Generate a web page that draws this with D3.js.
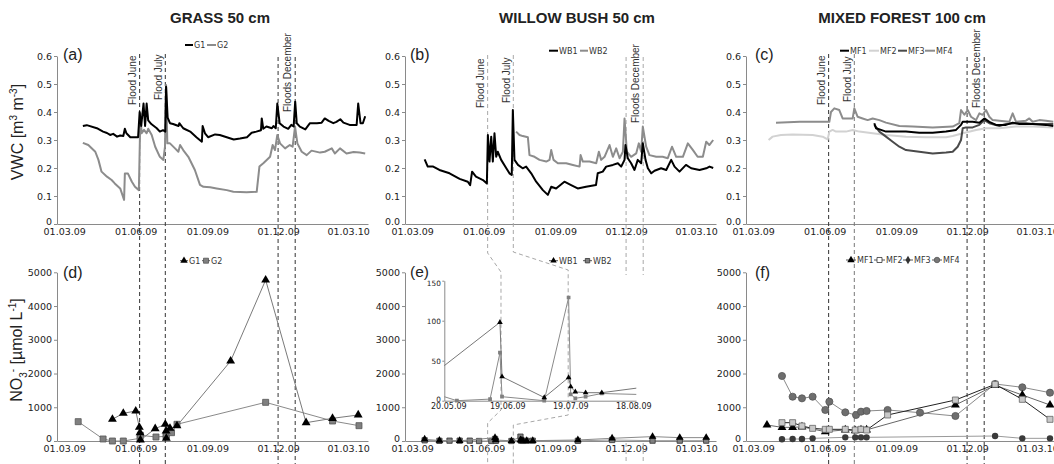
<!DOCTYPE html>
<html><head><meta charset="utf-8">
<script src="https://cdn.jsdelivr.net/npm/d3@7"></script>
<style>body{margin:0;background:#fff}svg{display:block}</style>
</head><body>
<svg id="c" width="1054" height="464"></svg>
<script>
// ---------- DATA (day offset since 01.03.09, value) ----------
const PANEL_TITLES = ["GRASS 50 cm", "WILLOW BUSH 50 cm", "MIXED FOREST 100 cm"];
const X_TICKS = ["2009-03-01", "2009-06-01", "2009-09-01", "2009-12-01", "2010-03-01"];
const VWC_TICKS = [0, 0.1, 0.2, 0.3, 0.4, 0.5, 0.6];
const NO3_TICKS = [0, 1000, 2000, 3000, 4000, 5000];
const INSET_X_TICKS = ["2009-05-20", "2009-06-19", "2009-07-19", "2009-08-18"];
const INSET_Y_TICKS = [0, 50, 100, 150];
const FLOOD_DAYS = [97, 130, 275, 297];     // Flood June, Flood July, Floods December (2 lines)
const INSET_FLOOD_DAYS = [107, 139];

const G1_VWC = [[24,0.35],[29,0.353],[42,0.342],[50,0.33],[55,0.325],[59,0.318],[63,0.322],[68,0.312],[72,0.316],[76,0.314],[78,0.34],[80,0.324],[85,0.31],[95,0.31],[97,0.40],[99,0.35],[102,0.43],[104,0.35],[106,0.43],[108,0.37],[112,0.357],[119,0.342],[123,0.33],[127,0.335],[130,0.33],[131,0.49],[133,0.38],[136,0.36],[140,0.357],[147,0.35],[148,0.36],[153,0.342],[162,0.33],[170,0.31],[177,0.294],[178,0.35],[181,0.324],[185,0.31],[194,0.32],[200,0.318],[209,0.31],[218,0.302],[226,0.305],[235,0.31],[241,0.326],[247,0.33],[253,0.335],[254,0.377],[256,0.34],[260,0.348],[267,0.342],[269,0.35],[272,0.342],[274,0.43],[277,0.36],[282,0.348],[288,0.34],[292,0.354],[295,0.348],[297,0.437],[299,0.36],[303,0.348],[310,0.338],[316,0.36],[325,0.36],[331,0.362],[335,0.377],[340,0.368],[346,0.36],[350,0.365],[355,0.374],[359,0.362],[367,0.354],[376,0.354],[378,0.43],[381,0.36],[384,0.36],[387,0.385]];
const G2_VWC = [[24,0.29],[31,0.282],[40,0.258],[44,0.229],[48,0.187],[55,0.169],[61,0.157],[65,0.145],[72,0.127],[77,0.086],[78,0.18],[82,0.18],[87,0.151],[91,0.133],[96,0.121],[98,0.395],[99.6,0.324],[102.6,0.336],[106,0.324],[108,0.34],[112.5,0.318],[117,0.276],[123,0.24],[127.5,0.229],[129.6,0.276],[131,0.496],[132.6,0.288],[136,0.288],[142.5,0.27],[146.8,0.258],[149,0.282],[153,0.264],[159.6,0.24],[168,0.193],[174.6,0.14],[179,0.133],[187.7,0.131],[196,0.127],[209,0.121],[217.5,0.115],[234.6,0.113],[247.5,0.115],[251,0.205],[256,0.217],[264.7,0.24],[268,0.282],[271,0.264],[274,0.318],[277.5,0.288],[284,0.27],[290,0.282],[293.7,0.276],[296.8,0.348],[299.8,0.288],[305.4,0.258],[311.8,0.246],[318,0.262],[329,0.255],[335,0.258],[344,0.27],[348,0.252],[354.6,0.27],[363,0.252],[372,0.257],[380,0.255],[387,0.252]];
const WB1_VWC = [[16,0.231],[20,0.205],[27,0.205],[35,0.193],[48,0.181],[61,0.161],[71.5,0.151],[74.5,0.139],[77,0.187],[82,0.169],[91,0.157],[96,0.145],[97.3,0.318],[99.4,0.223],[101.6,0.312],[103.7,0.223],[105.8,0.324],[108,0.24],[110,0.258],[114.4,0.229],[121,0.199],[125,0.181],[128,0.175],[129.4,0.407],[131.5,0.229],[136,0.211],[142,0.199],[146.5,0.205],[153,0.181],[159.4,0.151],[168,0.121],[174.4,0.104],[178.7,0.133],[185,0.127],[195.7,0.151],[204.3,0.139],[212.8,0.127],[223.5,0.133],[236.3,0.139],[238.5,0.181],[245,0.187],[249.4,0.205],[258,0.211],[264.4,0.217],[268.7,0.205],[273,0.229],[274.2,0.282],[277.2,0.235],[281.5,0.217],[285.8,0.193],[290,0.229],[294.4,0.217],[296.5,0.288],[300,0.229],[303,0.199],[307.4,0.181],[311.6,0.19],[320,0.199],[326.6,0.193],[333,0.229],[337.3,0.205],[343.7,0.187],[352,0.211],[358.7,0.199],[369.4,0.193],[378,0.199],[382.3,0.205],[387,0.2]];
const WB2_VWC = [[133.6,0.33],[138,0.318],[142.2,0.314],[148.7,0.31],[150.8,0.246],[157.3,0.24],[163.7,0.229],[172.3,0.223],[176.6,0.229],[178.7,0.264],[181.7,0.229],[187.3,0.217],[198,0.217],[206.6,0.211],[215.2,0.205],[216.5,0.246],[219.4,0.223],[228,0.223],[236.6,0.217],[240,0.258],[243,0.229],[247.3,0.24],[253.7,0.282],[258,0.24],[262.3,0.27],[266.6,0.235],[270.9,0.258],[273,0.377],[276,0.258],[281.5,0.24],[288,0.252],[291.4,0.288],[294.4,0.258],[296.5,0.348],[300.8,0.276],[305,0.246],[313.7,0.24],[322,0.24],[328.6,0.235],[334,0.276],[339.4,0.24],[348,0.24],[354.4,0.288],[361,0.264],[367,0.24],[373.7,0.24],[378,0.294],[382,0.282],[387,0.3]];
const MF1_VWC = [[155.7,0.36],[157.9,0.342],[164.3,0.336],[170.7,0.33],[179.3,0.33],[196.4,0.33],[213.5,0.326],[230.8,0.326],[247.9,0.33],[260.8,0.336],[267.2,0.354],[269.4,0.365],[282.2,0.365],[290.8,0.362],[297.2,0.377],[303.6,0.365],[312.2,0.354],[325,0.354],[333.6,0.362],[342.2,0.357],[359.3,0.357],[376.4,0.354],[385.8,0.35]];
const MF2_VWC = [[19.8,0.30],[25,0.312],[35.7,0.318],[50.7,0.32],[76.4,0.318],[89.3,0.312],[95.7,0.302],[97.9,0.33],[102.1,0.336],[106.4,0.33],[119.3,0.33],[127.9,0.336],[136.4,0.33],[153.6,0.324],[170.7,0.318],[196.4,0.312],[222.2,0.31],[247.9,0.31],[256.5,0.314],[269.4,0.324],[286.5,0.336],[299.3,0.342],[316.5,0.342],[337.9,0.348],[359.3,0.348],[385.8,0.345]];
const MF3_VWC = [[155.7,0.354],[162.2,0.33],[170.7,0.312],[179.3,0.294],[187.9,0.276],[196.4,0.264],[213.5,0.258],[230.8,0.252],[247.9,0.255],[256.5,0.258],[262.9,0.276],[267.2,0.30],[269.4,0.342],[273.7,0.345],[282.2,0.345],[290.8,0.354],[297.2,0.371],[303.6,0.36],[316.5,0.35],[325,0.357],[337.9,0.36],[350.7,0.36],[359.3,0.357],[385.8,0.357]];
const MF4_VWC = [[29.3,0.362],[60,0.365],[97.9,0.365],[100,0.40],[104.3,0.413],[110.7,0.407],[115,0.377],[123.6,0.377],[127.9,0.377],[130,0.413],[134.3,0.383],[140.7,0.377],[147.2,0.371],[153.6,0.377],[162.2,0.371],[170.7,0.362],[187.9,0.35],[205,0.348],[230.8,0.345],[256.5,0.348],[265,0.36],[267.2,0.407],[271.5,0.39],[275.8,0.407],[280,0.383],[286.5,0.371],[290.8,0.395],[295,0.39],[299.3,0.407],[303.6,0.383],[307.9,0.371],[316.5,0.369],[329.3,0.365],[333.6,0.395],[337.9,0.365],[350.7,0.369],[355,0.377],[359.3,0.365],[367.9,0.371],[376.4,0.369],[385.8,0.365]];

const G1_NO3 = [[62,643],[76,821],[92,889],[96.6,406],[97.5,246],[98,30],[117,365],[130,495],[131,296],[131.3,80],[136,376],[145,450],[214,2371],[259,4772],[311,543],[345,672],[378,771]];
const G2_NO3 = [[18,573],[50,60],[62,0],[76,0],[97.5,80],[98,169],[118,119],[131,140],[131.3,169],[138,247],[145,495],[259,1146],[345,593],[379,454]];
const WB1_NO3 = [[16,50],[35,15],[61,5],[106.5,98],[107.5,30],[127.6,4],[139.2,29],[140.2,17.5],[142.4,11],[147.3,10],[155,10],[213,30],[257,80],[309,130],[344,100],[378,100]];
const WB2_NO3 = [[16,20],[35,5],[48,10],[61,10],[74,10],[86,0],[101.8,2],[106.5,60],[107.5,5],[127.6,0],[139.2,129],[140.2,8],[142.4,3],[147.3,5],[155,9],[213,5],[257,30],[309,10],[344,10],[378,10]];
const MF1_NO3 = [[17.7,474],[37,405],[50.7,405],[62.7,420],[92.7,277],[118.4,330],[131.2,306],[138.6,330],[145.8,330],[260,1067],[311,1650],[346,1363],[381.6,1067]];
const MF2_NO3 = [[37,543],[50.7,543],[62.7,445],[76.4,375],[92.7,346],[97.9,346],[118.4,346],[131.2,326],[138.6,346],[145.8,326],[172.8,771],[260,1215],[311,1680],[346,1235],[381.6,642]];
const MF3_NO3 = [[37,50],[50.7,59],[62.7,59],[76.4,79],[118.4,109],[131.2,109],[138.6,109],[145.8,109],[311,148],[346,79],[381.6,79]];
const MF4_NO3 = [[37,1927],[50.7,1313],[62.7,1264],[76.4,1313],[92.7,919],[97.9,1166],[118.4,850],[132.2,771],[138.6,869],[145.8,889],[172.8,919],[214.5,840],[260,741],[311,1690],[346,1591],[381.6,1432]];

// ---------- LAYOUT ----------
const svg = d3.select("#c");
const FT = "'Liberation Sans', Arial, sans-serif";
const FV = "'DejaVu Sans', Verdana, sans-serif";
const parse = d3.timeParse("%Y-%m-%d");
const T0 = parse("2009-03-01");
const D = n => new Date(T0.getTime() + n * 864e5);
const fmtD = d3.timeFormat("%d.%m.%y");
const AX = [57, 405, 746], PW = 311;
const UP = [224, 56], LO = [441, 272.3];
const xs = AX.map(a => d3.scaleTime().domain([D(-9.25), D(390.6)]).range([a, a + PW]));
const yUp = d3.scaleLinear().domain([0, 0.6]).range(UP);
const yLo = d3.scaleLinear().domain([0, 5000]).range(LO);

function styleAxis(g, fs) {
  g.select(".domain").attr("stroke", "#8a8a8a");
  g.selectAll(".tick line").attr("stroke", "#8a8a8a");
  g.selectAll("text").attr("fill", "#222").style("font-family", FV).style("font-size", fs + "px");
}
function axes(i, y, ticks, fmt, yBase) {
  const gx = svg.append("g").attr("transform", `translate(0,${yBase})`)
    .call(d3.axisBottom(xs[i]).tickValues(X_TICKS.map(parse)).tickFormat(fmtD).tickSize(0).tickSizeOuter(0).tickPadding(4.5));
  styleAxis(gx, 9.5);
  const gy = svg.append("g").attr("transform", `translate(${AX[i]},0)`)
    .call(d3.axisLeft(y).tickValues(ticks).tickFormat(fmt).tickSize(3).tickSizeOuter(0).tickPadding(2));
  styleAxis(gy, 9.5);
  gy.selectAll(".tick text").filter(d => d === 0).attr("dy", "0.1em");
}

// titles
const TITLE_X = [220, 577, 902];
PANEL_TITLES.forEach((t, i) => svg.append("text").attr("x", TITLE_X[i]).attr("y", 23).attr("text-anchor", "middle")
  .style("font-family", FT).style("font-weight", "bold").style("font-size", "15px").attr("fill", "#222").text(t));

// y axis titles
const yt1 = svg.append("text").attr("transform", "translate(23,132) rotate(-90)").attr("text-anchor", "middle")
  .style("font-family", FT).style("font-size", "16px").attr("fill", "#222");
yt1.append("tspan").text("VWC [m");
yt1.append("tspan").attr("dy", -6).style("font-size", "10px").text("3");
yt1.append("tspan").attr("dy", 6).text(" m");
yt1.append("tspan").attr("dy", -6).style("font-size", "10px").text("-3");
yt1.append("tspan").attr("dy", 6).text("]");
const yt2 = svg.append("text").attr("transform", "translate(22,350) rotate(-90)").attr("text-anchor", "middle")
  .style("font-family", FT).style("font-size", "16px").attr("fill", "#222");
yt2.append("tspan").text("NO");
yt2.append("tspan").attr("dy", 5).style("font-size", "10px").text("3");
yt2.append("tspan").attr("dy", -11).style("font-size", "10px").text("-");
yt2.append("tspan").attr("dy", 6).text(" [\u00b5mol L");
yt2.append("tspan").attr("dy", -6).style("font-size", "10px").text("-1");
yt2.append("tspan").attr("dy", 6).text("]");

// axes
const f1 = d3.format(".1f");
axes(0, yUp, VWC_TICKS, d => d === 0 ? "0" : f1(d), UP[0]);
axes(1, yUp, VWC_TICKS, f1, UP[0]);
axes(2, yUp, VWC_TICKS, f1, UP[0]);
for (let i = 0; i < 3; i++) axes(i, yLo, NO3_TICKS, d3.format("d"), LO[0]);

// panel letters
const LET = ["(a)", "(b)", "(c)", "(d)", "(e)", "(f)"];
LET.forEach((l, k) => {
  const i = k % 3, yb = k < 3 ? 60 : 278;
  svg.append("text").attr("x", [63, 410, 755][i]).attr("y", k === 4 ? 277 : yb).style("font-family", FT)
    .style("font-size", k === 4 ? "15.5px" : "16px").attr("fill", "#222").text(l);
});

// flood lines
const dash = "4,3";
function vline(x, y1, y2, col) {
  svg.append("line").attr("x1", x).attr("x2", x).attr("y1", y1).attr("y2", y2)
    .attr("stroke", col).attr("stroke-width", 1).attr("stroke-dasharray", dash);
}
const DARK = "#333", LIGHT = "#a8a8a8";
[0, 2].forEach(i => {
  const x = xs[i];
  vline(x(D(FLOOD_DAYS[0])), 54, 464, DARK);
  vline(x(D(FLOOD_DAYS[1])), 54, 464, i === 2 ? "#777" : DARK);
  vline(x(D(FLOOD_DAYS[2])), 57, 464, DARK);
  vline(x(D(FLOOD_DAYS[3])), 57, 464, DARK);
});
// column b/e
const xb = xs[1];
vline(xb(D(FLOOD_DAYS[2])), 57, 275, LIGHT); vline(xb(D(FLOOD_DAYS[2])), 443, 464, LIGHT);
vline(xb(D(FLOOD_DAYS[3])), 57, 275, LIGHT); vline(xb(D(FLOOD_DAYS[3])), 443, 464, LIGHT);

// inset scales
const xin = d3.scaleTime().domain([D(80), D(171.3)]).range([444.3, 636]);
const yin = d3.scaleLinear().domain([0, 150]).range([400.7, 280.7]);
const conn = [[253, 272, 410, 423], [252, 270, 415, 425]];
[0, 1].forEach(k => {
  const xm = xb(D(FLOOD_DAYS[k])), xi = xin(D(INSET_FLOOD_DAYS[k])), c = conn[k];
  svg.append("path").attr("d", `M${xm},55V${c[0]}L${xi},${c[1]}V${c[2]}L${xm},${c[3]}V464`)
    .attr("fill", "none").attr("stroke", LIGHT).attr("stroke-dasharray", dash);
});

// flood labels
function flabel(x, y, t) {
  svg.append("text").attr("transform", `translate(${x},${y}) rotate(-90)`).style("font-family", FT)
    .style("font-size", "10px").attr("fill", "#333").text(t);
}
const FLB = [[105, 100, 112], [108, 103, 123], [105, 102, 108]];
for (let i = 0; i < 3; i++) {
  const x = xs[i];
  flabel(x(D(FLOOD_DAYS[0])) - 3.5, FLB[i][0], "Flood June");
  flabel(x(D(FLOOD_DAYS[1])) - 3.5, FLB[i][1], "Flood July");
  flabel(x(D(FLOOD_DAYS[3])) - 4.5, FLB[i][2], "Floods December");
}

// ---------- VWC lines ----------
function vwcLine(i, data, col) {
  const line = d3.line().x(d => xs[i](D(d[0]))).y(d => yUp(d[1]));
  svg.append("path").datum(data).attr("d", line).attr("fill", "none").attr("stroke", col)
    .attr("stroke-width", 2).attr("stroke-linejoin", "round");
}
const GRAY = "#8c8c8c";
vwcLine(0, G2_VWC, GRAY); vwcLine(0, G1_VWC, "#000");
vwcLine(1, WB2_VWC, GRAY); vwcLine(1, WB1_VWC, "#000");
vwcLine(2, MF2_VWC, "#d2d2d2"); vwcLine(2, MF4_VWC, GRAY); vwcLine(2, MF3_VWC, "#4a4a4a"); vwcLine(2, MF1_VWC, "#000");

// upper legends
function legLine(x1, x2, y, col, label, fs) {
  svg.append("line").attr("x1", x1).attr("x2", x2).attr("y1", y).attr("y2", y).attr("stroke", col).attr("stroke-width", 2);
  svg.append("text").attr("x", x2 + 1).attr("y", y + 3).style("font-family", FV).style("font-size", (fs || 8) + "px").attr("fill", "#333").text(label);
}
legLine(185, 193, 45, "#000", "G1"); legLine(207, 216, 45, GRAY, "G2");
legLine(549, 558, 50.7, "#000", "WB1"); legLine(580, 588, 50.7, GRAY, "WB2");
legLine(840, 849, 50.7, "#000", "MF1"); legLine(869, 879, 50.7, "#d2d2d2", "MF2");
legLine(898, 907, 50.7, "#4a4a4a", "MF3"); legLine(925, 935, 50.7, GRAY, "MF4");

// ---------- NO3 ----------
const SYM = { tri: d3.symbolTriangle, sq: d3.symbolSquare, dia: d3.symbolDiamond, cir: d3.symbolCircle };
function no3(xsc, ysc, data, st, clip) {
  const g = svg.append("g");
  if (clip) g.attr("clip-path", clip);
  const line = d3.line().x(d => xsc(D(d[0]))).y(d => ysc(d[1]));
  g.append("path").datum(data).attr("d", line).attr("fill", "none").attr("stroke", st.line).attr("stroke-width", st.lw || 1);
  const dom = xsc.domain();
  g.selectAll("path.m").data(data.filter(d => D(d[0]) >= dom[0] && D(d[0]) <= dom[1])).join("path").attr("class", "m")
    .attr("transform", d => `translate(${xsc(D(d[0]))},${ysc(d[1])})`)
    .attr("d", d3.symbol().type(SYM[st.sym]).size(st.size))
    .attr("fill", st.fill).attr("stroke", st.stroke || "none").attr("stroke-width", 0.8);
}
const sG1 = { line: "#7a7a7a", sym: "tri", size: 34, fill: "#000" };
const sG2 = { line: "#8a8a8a", sym: "sq", size: 36, fill: "#808080", stroke: "#555" };
no3(xs[0], yLo, G2_NO3, sG2); no3(xs[0], yLo, G1_NO3, sG1);
const sW1 = { line: "#8a8a8a", sym: "tri", size: 26, fill: "#000" };
const sW2 = { line: "#9a9a9a", sym: "sq", size: 28, fill: "#808080", stroke: "#333" };
no3(xs[1], yLo, WB2_NO3, sW2); no3(xs[1], yLo, WB1_NO3, sW1);
no3(xs[2], yLo, MF4_NO3, { line: "#8a8a8a", sym: "cir", size: 40, fill: "#6e6e6e", stroke: "#555" });
no3(xs[2], yLo, MF3_NO3, { line: "#9a9a9a", sym: "cir", size: 32, fill: "#3a3a3a" });
no3(xs[2], yLo, MF1_NO3, { line: "#666", sym: "tri", size: 34, fill: "#000" });
no3(xs[2], yLo, MF2_NO3, { line: "#222", sym: "sq", size: 36, fill: "#c8c8c8", stroke: "#666" });

// inset
const gx = svg.append("g").attr("transform", "translate(0,400.7)")
  .call(d3.axisBottom(xin).tickValues(INSET_X_TICKS.map(parse)).tickFormat(fmtD).tickSize(0).tickSizeOuter(0).tickPadding(3));
styleAxis(gx, 8);
gx.selectAll(".tick text").filter((d, k) => k === 0).attr("dx", "4");
const gy = svg.append("g").attr("transform", "translate(444.3,0)")
  .call(d3.axisLeft(yin).tickValues(INSET_Y_TICKS).tickSize(2).tickSizeOuter(0).tickPadding(1.5));
styleAxis(gy, 7.3);
gy.selectAll(".tick text").filter(d => d === 0).attr("dy", "0.05em");
gy.selectAll(".tick text").filter(d => d === 150).attr("dy", "0.6em");
svg.append("clipPath").attr("id", "ic").append("rect").attr("x", 444.3).attr("y", 270).attr("width", 192).attr("height", 134);
no3(xin, yin, WB2_NO3, { line: "#8a8a8a", sym: "sq", size: 14, fill: "#808080" }, "url(#ic)");
no3(xin, yin, WB1_NO3, { line: "#777", sym: "tri", size: 14, fill: "#000" }, "url(#ic)");

// lower legends
function legSym(x1, x2, y, st, label) {
  svg.append("line").attr("x1", x1).attr("x2", x2).attr("y1", y).attr("y2", y).attr("stroke", "#555").attr("stroke-width", 1);
  svg.append("path").attr("transform", `translate(${(x1 + x2) / 2},${y})`).attr("d", d3.symbol().type(SYM[st.sym]).size(st.size * 0.7))
    .attr("fill", st.fill).attr("stroke", st.stroke || "none").attr("stroke-width", 0.8);
  svg.append("text").attr("x", x2 + 1).attr("y", y + 3).style("font-family", FV).style("font-size", "8px").attr("fill", "#333").text(label);
}
legSym(180, 188, 260.7, sG1, "G1"); legSym(202, 210, 260.7, sG2, "G2");
legSym(549, 558, 260.7, sW1, "WB1"); legSym(583, 592, 260.7, sW2, "WB2");
legSym(846, 856, 260, { sym: "tri", size: 34, fill: "#000" }, "MF1");
legSym(874, 885, 260, { sym: "sq", size: 36, fill: "#fff", stroke: "#333" }, "MF2");
legSym(903, 913, 260, { sym: "dia", size: 30, fill: "#333" }, "MF3");
legSym(932, 942, 260, { sym: "cir", size: 34, fill: "#777", stroke: "#555" }, "MF4");
</script>
</body></html>
